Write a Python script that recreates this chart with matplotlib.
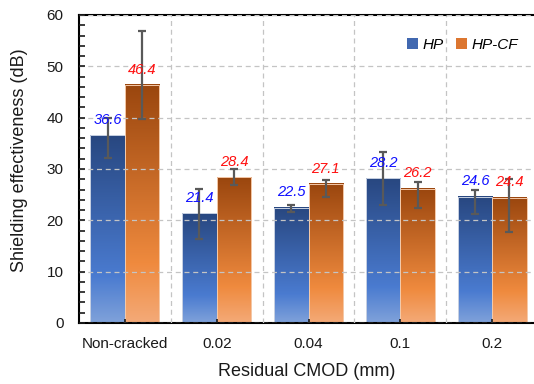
import numpy as np
import matplotlib
matplotlib.use('Agg')
import matplotlib.pyplot as plt
from matplotlib.colors import LinearSegmentedColormap
from matplotlib.patches import Patch
from matplotlib.ticker import MultipleLocator

# 数据
categories = ['Non-cracked', '0.02', '0.04', '0.1', '0.2']
hp = [36.6, 21.4, 22.5, 28.2, 24.6]
hp_cf = [46.4, 28.4, 27.1, 26.2, 24.4]
# 误差棒上下端（非对称）
hp_low = [32.2, 16.4, 21.6, 23.0, 21.2]
hp_high = [40.0, 26.1, 23.0, 33.3, 26.0]
cf_low = [39.7, 26.9, 24.6, 22.4, 17.7]
cf_high = [56.9, 30.0, 27.9, 27.5, 28.1]

plt.rcParams['font.family'] = ['Liberation Sans', 'DejaVu Sans']

fig = plt.figure(figsize=(5.34, 3.84), dpi=100)
ax = fig.add_axes([79 / 534, 61 / 384, 455 / 534, 308 / 384])

x = np.arange(len(categories))
w = 0.376

blue_cmap = LinearSegmentedColormap.from_list(
    'hp', [(0, '#80a2da'), (0.25, '#4a7bd0'), (1, '#284780')])
orange_cmap = LinearSegmentedColormap.from_list(
    'hpcf', [(0, '#f4aa78'), (0.25, '#ef8a3e'), (1, '#9a460e')])
grad = np.linspace(0, 1, 256).reshape(-1, 1)


def gradient_bars(xs, heights, cmap, edge):
    bars = ax.bar(xs, heights, w, color='none', edgecolor=edge,
                  linewidth=0.7, zorder=1.5)
    for b in bars:
        x0, y0 = b.get_x(), b.get_y()
        ax.imshow(grad, cmap=cmap, origin='lower', aspect='auto',
                  interpolation='bicubic', zorder=1,
                  extent=(x0, x0 + b.get_width(), y0, y0 + b.get_height()))
    return bars


gradient_bars(x - w / 2, hp, blue_cmap, '#c9d2e3')
gradient_bars(x + w / 2, hp_cf, orange_cmap, '#f5c9a8')

# 误差棒
hp_arr, cf_arr = np.array(hp), np.array(hp_cf)
ax.errorbar(x - w / 2, hp_arr,
            yerr=[hp_arr - np.array(hp_low), np.array(hp_high) - hp_arr],
            fmt='none', ecolor='#595959', elinewidth=1.6, capsize=2.6,
            capthick=1.6, zorder=5)
ax.errorbar(x + w / 2, cf_arr,
            yerr=[cf_arr - np.array(cf_low), np.array(cf_high) - cf_arr],
            fmt='none', ecolor='#595959', elinewidth=1.6, capsize=2.6,
            capthick=1.6, zorder=5)

# 数值标注
for xi, v in zip(x - w / 2, hp):
    ax.annotate(f'{v}', (xi, v), xytext=(0, 11), textcoords='offset points',
                ha='center', va='center', color='#1010ff', style='italic',
                fontsize=10.5, zorder=6)
for xi, v in zip(x + w / 2, hp_cf):
    ax.annotate(f'{v}', (xi, v), xytext=(0, 11), textcoords='offset points',
                ha='center', va='center', color='#ff1010', style='italic',
                fontsize=10.5, zorder=6)

ax.set_xlim(-0.5, 4.455)
ax.set_ylim(0, 60)

# 坐标轴与刻度
ax.set_xticks(x)
ax.set_xticklabels(categories)
ax.set_xticks(x[:-1] + 0.5, minor=True)
ax.yaxis.set_major_locator(MultipleLocator(10))
ax.yaxis.set_minor_locator(MultipleLocator(2))
ax.tick_params(axis='y', which='both', direction='in', length=4, width=1.2,
               pad=11, labelsize=11, colors='#1a1a1a')
ax.tick_params(axis='x', which='major', direction='in', length=3, width=1.2,
               pad=10, labelsize=11, colors='#1a1a1a')
ax.tick_params(axis='x', which='minor', length=0)

ax.set_axisbelow(False)
ax.yaxis.grid(True, which='major', color='#c4c4c4', linestyle=(0, (4, 3)),
              linewidth=0.9)
ax.xaxis.grid(True, which='minor', color='#c4c4c4', linestyle=(0, (4, 3)),
              linewidth=0.9)

for side in ['left', 'bottom', 'top']:
    ax.spines[side].set_linewidth(1.5)
ax.spines['right'].set_visible(False)

ax.set_xlabel('Residual CMOD (mm)', fontsize=13, color='#1a1a1a', va='center')
ax.set_ylabel('Shielding effectiveness (dB)', fontsize=13, color='#1a1a1a',
              va='center')
ax.xaxis.set_label_coords(0.5, -0.159)
ax.yaxis.set_label_coords(-0.13, 0.53)

handles = [Patch(facecolor='#4168b0', edgecolor='none', label='HP'),
           Patch(facecolor='#dc7630', edgecolor='none', label='HP-CF')]
ax.legend(handles=handles, ncol=2, frameon=False, loc='center right',
          bbox_to_anchor=(0.995, 0.903), prop={'style': 'italic', 'size': 11},
          handlelength=0.7, handleheight=0.7, handletextpad=0.3,
          columnspacing=0.8)

fig.savefig('out.png', dpi=100)
